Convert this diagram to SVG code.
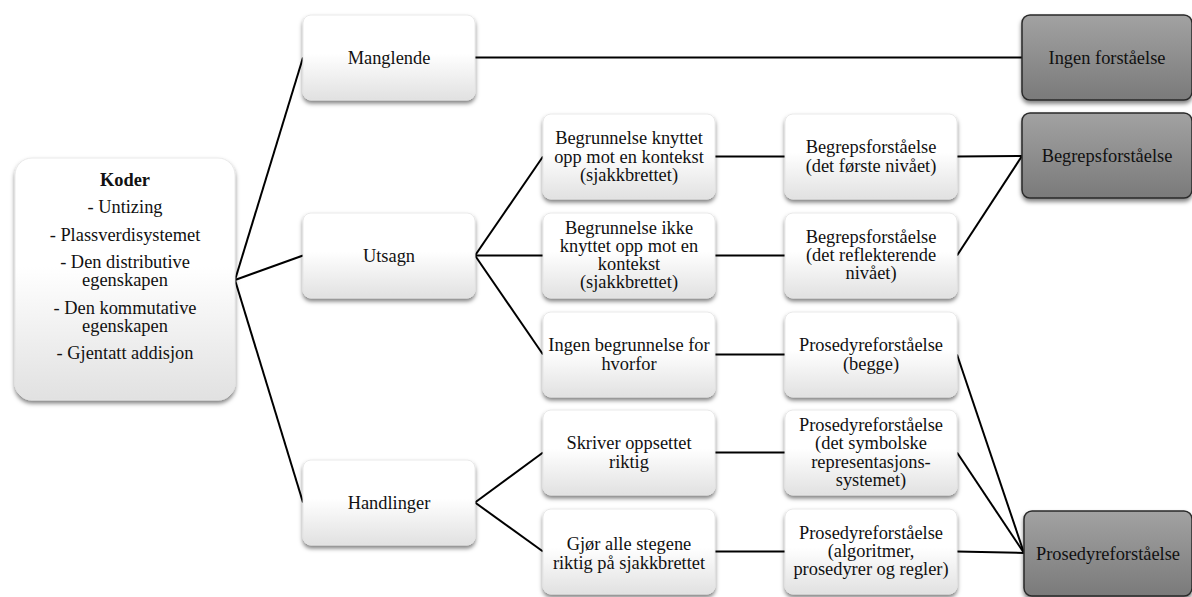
<svg xmlns="http://www.w3.org/2000/svg" width="1192" height="597" viewBox="0 0 1192 597">
<defs>
<linearGradient id="gw" x1="0" y1="0" x2="0" y2="1">
<stop offset="0" stop-color="#ffffff"/>
<stop offset="0.45" stop-color="#ffffff"/>
<stop offset="1" stop-color="#e1e1e1"/>
</linearGradient>
<linearGradient id="gd" x1="0" y1="0" x2="0" y2="1">
<stop offset="0" stop-color="#a2a2a2"/>
<stop offset="1" stop-color="#7a7a7a"/>
</linearGradient>
<filter id="sh" x="-10%" y="-10%" width="120%" height="130%">
<feDropShadow dx="0" dy="3" stdDeviation="2" flood-color="#000" flood-opacity="0.5"/>
</filter>
</defs>
<style>
.w{fill:url(#gw);stroke:#e4e4e4;stroke-width:0.8;filter:url(#sh)}
.d{fill:url(#gd);stroke:#2a2a2a;stroke-width:1.5;filter:url(#sh)}
#connectors line{stroke:#000;stroke-width:2;fill:none}
</style>
<rect width="1192" height="597" fill="#fff"/>
<g id="connectors">
<line x1="235" y1="280" x2="303" y2="57.5"/>
<line x1="235" y1="280" x2="303" y2="255.5"/>
<line x1="235" y1="280" x2="303" y2="502.5"/>
<line x1="475" y1="57.5" x2="1022" y2="57.5"/>
<line x1="475" y1="255.5" x2="543" y2="156.5"/>
<line x1="475" y1="255.5" x2="543" y2="255.5"/>
<line x1="475" y1="255.5" x2="543" y2="354.5"/>
<line x1="475" y1="502.5" x2="543" y2="452.5"/>
<line x1="475" y1="502.5" x2="543" y2="551.5"/>
<line x1="715" y1="156.5" x2="785" y2="156.5"/>
<line x1="715" y1="255.5" x2="785" y2="255.5"/>
<line x1="715" y1="354.5" x2="785" y2="354.5"/>
<line x1="715" y1="452.5" x2="785" y2="452.5"/>
<line x1="715" y1="551.5" x2="785" y2="551.5"/>
<line x1="957" y1="156.5" x2="1022" y2="156"/>
<line x1="957" y1="255.5" x2="1022" y2="156"/>
<line x1="957" y1="354.5" x2="1024" y2="553"/>
<line x1="957" y1="452.5" x2="1024" y2="553"/>
<line x1="957" y1="551.5" x2="1024" y2="553"/>
</g>
<g font-family="Liberation Serif, Times New Roman, serif" font-size="18.4" fill="#111" text-anchor="middle">
<g id="koder">
<rect class="w" x="15" y="158" width="220" height="242" rx="17"/>
<text font-weight="bold" x="125" y="186">Koder</text>
<text x="125" y="213.3">- Untizing</text>
<text x="125" y="240.6">- Plassverdisystemet</text>
<text x="125" y="267.9">- Den distributive</text>
<text x="125" y="286.2">egenskapen</text>
<text x="125" y="313.5">- Den kommutative</text>
<text x="125" y="331.8">egenskapen</text>
<text x="125" y="359.1">- Gjentatt addisjon</text>
</g>
<g id="manglende">
<rect class="w" x="303" y="15" width="172" height="85" rx="8"/>
<text x="389" y="63.5">Manglende</text>
</g>
<g id="utsagn">
<rect class="w" x="303" y="213" width="172" height="85" rx="8"/>
<text x="389" y="261.5">Utsagn</text>
</g>
<g id="handlinger">
<rect class="w" x="303" y="460" width="172" height="85" rx="8"/>
<text x="389" y="508.5">Handlinger</text>
</g>
<g id="b1">
<rect class="w" x="543" y="114" width="172" height="85" rx="8"/>
<text x="629" y="144.2">Begrunnelse knyttet</text>
<text x="629" y="162.5">opp mot en kontekst</text>
<text x="629" y="180.8">(sjakkbrettet)</text>
</g>
<g id="b2">
<rect class="w" x="543" y="213" width="172" height="85" rx="8"/>
<text x="629" y="233.5">Begrunnelse ikke</text>
<text x="629" y="251.8">knyttet opp mot en</text>
<text x="629" y="270.1">kontekst</text>
<text x="629" y="288.4">(sjakkbrettet)</text>
</g>
<g id="b3">
<rect class="w" x="543" y="312" width="172" height="85" rx="8"/>
<text x="629" y="351.4">Ingen begrunnelse for</text>
<text x="629" y="369.7">hvorfor</text>
</g>
<g id="b4">
<rect class="w" x="543" y="410" width="172" height="85" rx="8"/>
<text x="629" y="449.4">Skriver oppsettet</text>
<text x="629" y="467.7">riktig</text>
</g>
<g id="b5">
<rect class="w" x="543" y="509" width="172" height="85" rx="8"/>
<text x="629" y="550.4">Gjør alle stegene</text>
<text x="629" y="568.7">riktig på sjakkbrettet</text>
</g>
<g id="c1">
<rect class="w" x="785" y="114" width="172" height="85" rx="8"/>
<text x="871" y="153.4">Begrepsforståelse</text>
<text x="871" y="171.7">(det første nivået)</text>
</g>
<g id="c2">
<rect class="w" x="785" y="213" width="172" height="85" rx="8"/>
<text x="871" y="242.7">Begrepsforståelse</text>
<text x="871" y="261">(det reflekterende</text>
<text x="871" y="279.3">nivået)</text>
</g>
<g id="c3">
<rect class="w" x="785" y="312" width="172" height="85" rx="8"/>
<text x="871" y="351.4">Prosedyreforståelse</text>
<text x="871" y="369.7">(begge)</text>
</g>
<g id="c4">
<rect class="w" x="785" y="410" width="172" height="85" rx="8"/>
<text x="871" y="431">Prosedyreforståelse</text>
<text x="871" y="449.3">(det symbolske</text>
<text x="871" y="467.6">representasjons-</text>
<text x="871" y="485.9">systemet)</text>
</g>
<g id="c5">
<rect class="w" x="785" y="509" width="172" height="85" rx="8"/>
<text x="871" y="538.5">Prosedyreforståelse</text>
<text x="871" y="556.8">(algoritmer,</text>
<text x="871" y="575.1">prosedyrer og regler)</text>
</g>
<g id="d1">
<rect class="d" x="1022" y="15" width="170" height="85" rx="8"/>
<text x="1107" y="63.5">Ingen forståelse</text>
</g>
<g id="d2">
<rect class="d" x="1022" y="113" width="170" height="85" rx="8"/>
<text x="1107" y="161.5">Begrepsforståelse</text>
</g>
<g id="d3">
<rect class="d" x="1024" y="511" width="168" height="85" rx="8"/>
<text x="1108" y="559.5">Prosedyreforståelse</text>
</g>
</g>
</svg>
